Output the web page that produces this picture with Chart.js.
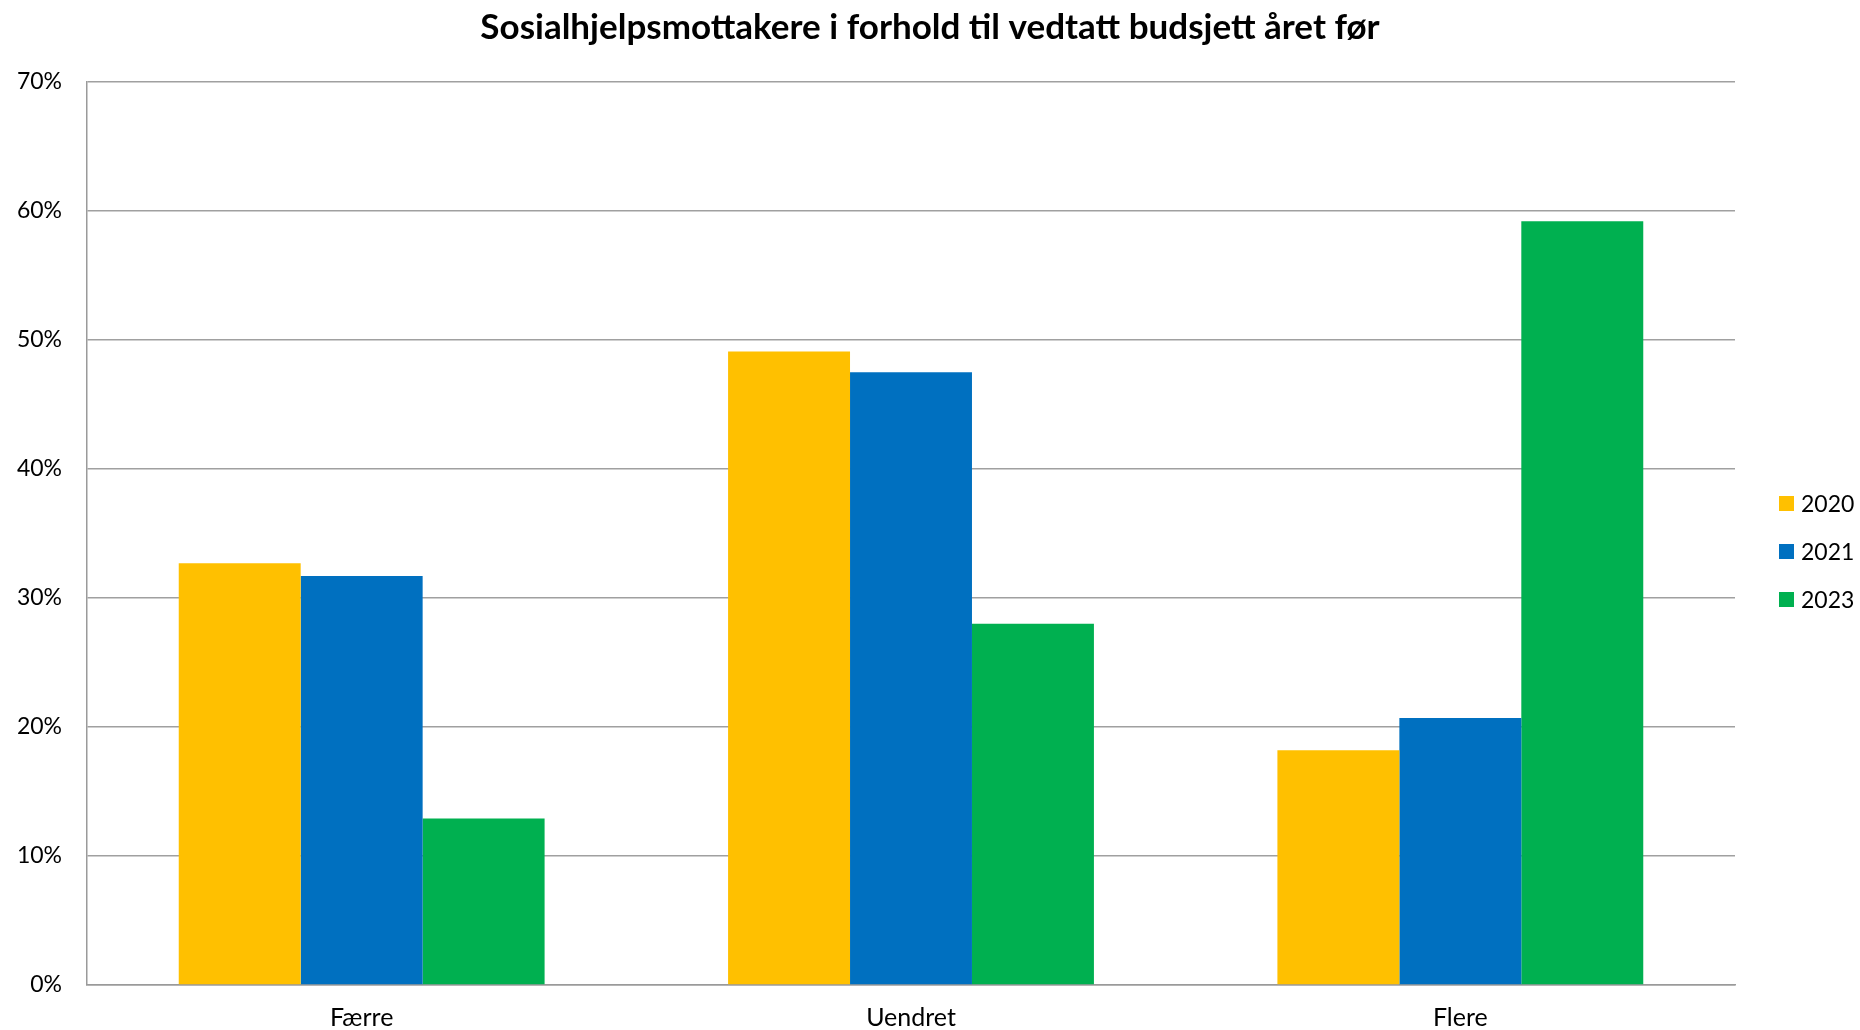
<!DOCTYPE html>
<html>
<head>
<meta charset="utf-8">
<script src="https://cdn.jsdelivr.net/npm/chart.js@4"></script>
<style>
html,body{margin:0;padding:0;background:#fff;}
canvas{display:block;}
</style>
</head>
<body>
<canvas id="c" width="1860" height="1030"></canvas>
<script>
const titleText = "Sosialhjelpsmottakere i forhold til vedtatt budsjett året før";
const categories = ["Færre", "Uendret", "Flere"];
const seriesNames = ["2020", "2021", "2023"];
const values2020 = [32.7, 49.1, 18.2];
const values2021 = [31.7, 47.5, 20.7];
const values2023 = [12.9, 28.0, 59.2];
const seriesColors = ["#FFC000", "#0070C0", "#00B050"];
const yTicks = [0, 10, 20, 30, 40, 50, 60, 70];

const FONT = "Lato, 'Open Sans', sans-serif";

const customLegend = {
  id: 'customLegend',
  afterDraw(chart) {
    const ctx = chart.ctx;
    const ds = chart.data.datasets;
    const x0 = 1779, box = 15, gap = 48;
    const yc = 551.5;
    ctx.save();
    ctx.font = "23px " + FONT;
    ctx.textBaseline = 'middle';
    ctx.textAlign = 'left';
    ds.forEach((d, i) => {
      const y = yc + (i - (ds.length - 1) / 2) * gap;
      ctx.fillStyle = d.backgroundColor;
      ctx.fillRect(x0, y - box / 2, box, box);
      ctx.fillStyle = '#000';
      ctx.fillText(d.label, x0 + 22, y + 1);
    });
    ctx.restore();
  }
};

const dataValues = [values2020, values2021, values2023];

new Chart(document.getElementById('c'), {
  type: 'bar',
  data: {
    labels: categories,
    datasets: seriesNames.map((n, i) => ({
      label: n,
      data: dataValues[i],
      backgroundColor: seriesColors[i],
      borderWidth: 0,
      barPercentage: 1.0,
      categoryPercentage: 0.666
    }))
  },
  options: {
    responsive: false,
    devicePixelRatio: 1,
    animation: false,
    layout: { padding: { left: 0, right: 0, top: 0, bottom: 0 } },
    plugins: {
      legend: { display: false },
      tooltip: { enabled: false },
      title: {
        display: true,
        text: titleText,
        color: '#000',
        font: { family: FONT, size: 35, weight: 'bold', lineHeight: 1.2 },
        padding: { top: 7, bottom: 33 }
      }
    },
    scales: {
      x: {
        afterFit(axis) { axis.height = 45; },
        grid: { display: false, drawTicks: false },
        border: { display: true, color: '#9a9a9a', width: 1.5 },
        ticks: { color: '#000', font: { family: FONT, size: 25, lineHeight: 1.0 }, padding: 20, maxRotation: 0 }
      },
      y: {
        min: 0, max: 70,
        afterFit(axis) { axis.width = 87; },
        afterBuildTicks(axis) { axis.ticks = yTicks.map(v => ({ value: v })); },
        grid: { color: '#a0a0a0', lineWidth: 1.5, drawTicks: false },
        border: { display: true, color: '#9a9a9a', width: 1.5 },
        ticks: { color: '#000', font: { family: FONT, size: 23 }, padding: 25, callback: v => v + '%' }
      },
      legendSpace: {
        type: 'linear',
        position: 'right',
        display: true,
        afterFit(axis) { axis.width = 125; },
        grid: { display: false, drawTicks: false },
        border: { display: false },
        ticks: { display: false }
      }
    }
  },
  plugins: [customLegend]
});
</script>
</body>
</html>
